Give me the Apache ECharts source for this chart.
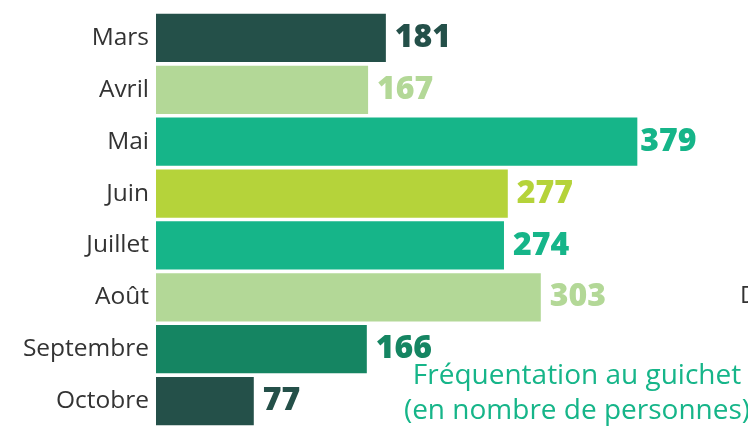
<!DOCTYPE html>
<html>
<head>
<meta charset="utf-8">
<script src="https://cdn.jsdelivr.net/npm/echarts@6/dist/echarts.min.js"></script>
<style>
  html, body { margin: 0; padding: 0; background: #fff; }
  #chart { width: 748px; height: 434px; }
</style>
</head>
<body>
<div id="chart"></div>
<script>
// mois affichés, de haut en bas
const months = ['Mars', 'Avril', 'Mai', 'Juin', 'Juillet', 'Août', 'Septembre', 'Octobre'];
const visitors = [181, 167, 379, 277, 274, 303, 166, 77];
const barColors = ['#245049', '#b3d897', '#16b589', '#b5d33a', '#16b589', '#b3d897', '#158562', '#245049'];

let chart = echarts.init(document.getElementById('chart'));

let items = visitors.map(function (v, i) {
    return {
        value: v,
        itemStyle: { color: barColors[i] },
        label: { color: barColors[i], distance: v === 379 ? 3 : 9 }
    };
});

let option = {
    animation: false,
    grid: { left: 156, top: 12, width: 508, height: 415 },
    xAxis: {
        type: 'value',
        min: 0,
        max: 400,
        show: false
    },
    yAxis: {
        type: 'category',
        data: months,
        inverse: true,
        axisLine: { show: false },
        axisTick: { show: false },
        axisLabel: {
            color: '#333',
            fontFamily: 'Open Sans',
            fontSize: 24.5,
            margin: 7
        }
    },
    series: [{
        type: 'bar',
        data: items,
        barCategoryGap: '7%',
        label: {
            show: true,
            position: 'right',
            fontFamily: 'Open Sans',
            fontWeight: 800,
            fontSize: 32
        }
    }],
    graphic: [
        {
            type: 'text',
            x: 740,
            y: 284,
            style: { text: 'D', fill: '#333', font: '24px "Open Sans"' }
        },
        {
            type: 'text',
            x: 577,
            y: 359,
            style: {
                text: 'Fréquentation au guichet\n(en nombre de personnes)',
                fill: '#16b589',
                font: '28px "Open Sans"',
                lineHeight: 35,
                align: 'center',
                verticalAlign: 'top'
            }
        }
    ]
};

chart.setOption(option);
</script>
</body>
</html>
